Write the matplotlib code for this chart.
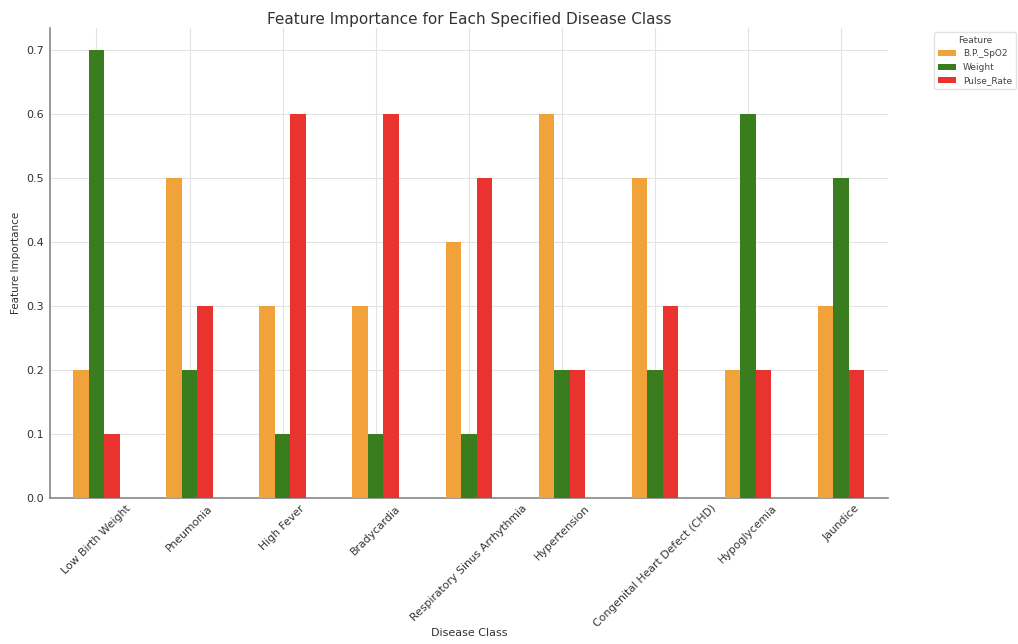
import matplotlib
matplotlib.use("Agg")
import matplotlib.pyplot as plt
import numpy as np

categories = ["Low Birth Weight", "Pneumonia", "High Fever", "Bradycardia",
              "Respiratory Sinus Arrhythmia", "Hypertension",
              "Congenital Heart Defect (CHD)", "Hypoglycemia", "Jaundice"]
bp_spo2 = [0.2, 0.5, 0.3, 0.3, 0.4, 0.6, 0.5, 0.2, 0.3]
weight = [0.7, 0.2, 0.1, 0.1, 0.1, 0.2, 0.2, 0.6, 0.5]
pulse_rate = [0.1, 0.3, 0.6, 0.6, 0.5, 0.2, 0.3, 0.2, 0.2]
series_names = ["B.P._SpO2", "Weight", "Pulse_Rate"]
colors = ["#f2a23a", "#3a7d1f", "#e8332f"]

fig = plt.figure(figsize=(10.18, 6.44), dpi=100)
ax = fig.add_axes([0.049, 0.227, 0.823, 0.730])

x = np.arange(len(categories))
w = 0.5 / 3
for i, (vals, name, c) in enumerate(zip([bp_spo2, weight, pulse_rate], series_names, colors)):
    ax.bar(x + (i - 1) * w, vals, width=w, color=c, label=name, zorder=3)

ax.set_xlim(-0.5, len(categories) - 0.5)
ax.set_ylim(0, 0.735)
ax.set_xticks(x)
ax.set_xticklabels(categories, rotation=45, ha="center", fontsize=7.8, color="#333333")
ax.set_yticks(np.arange(0, 0.71, 0.1))
ax.set_yticklabels([f"{v:.1f}" for v in np.arange(0, 0.71, 0.1)], fontsize=8, color="#333333")
ax.tick_params(axis="both", length=0, pad=4)
ax.grid(True, color="#e3e3e3", linewidth=0.8, zorder=0)
for s in ["top", "right"]:
    ax.spines[s].set_visible(False)
for s in ["left", "bottom"]:
    ax.spines[s].set_color("#888888")
    ax.spines[s].set_linewidth(1.2)

ax.set_title("Feature Importance for Each Specified Disease Class", fontsize=11, color="#333333", pad=3)
ax.set_xlabel("Disease Class", fontsize=8, color="#333333", labelpad=-1)
ax.set_ylabel("Feature Importance", fontsize=7.5, color="#333333")

leg = ax.legend(title="Feature", bbox_to_anchor=(1.05, 1.0), loc="upper left",
                fontsize=6.5, title_fontsize=6.5, frameon=True, edgecolor="#dddddd")
for t in leg.get_texts():
    t.set_color("#444444")
leg.get_title().set_color("#444444")

fig.savefig("out.png", dpi=100)
